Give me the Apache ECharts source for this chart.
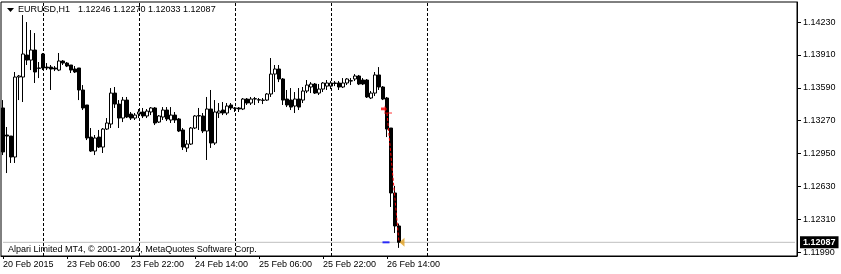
<!DOCTYPE html>
<html>
<head>
<meta charset="utf-8">
<script src="https://cdn.jsdelivr.net/npm/echarts@6/dist/echarts.min.js"></script>
<style>
html,body{margin:0;padding:0;background:#fff;}
#chart{width:841px;height:274px;}
</style>
</head>
<body>
<div id="chart"></div>
<script>
// ---- data (EURUSD H1) ----
const OPEN = [1.13394,1.13131,1.13121,1.12917,1.13695,1.13695,1.13909,1.13860,1.13958,1.13783,
1.13919,1.13792,1.13792,1.13783,1.13763,1.13851,1.13831,1.13812,1.13773,1.13783,
1.13569,1.13423,1.13111,1.12975,1.13111,1.13014,1.13189,1.13238,1.13539,1.13432,
1.13296,1.13471,1.13335,1.13296,1.13335,1.13355,1.13316,1.13355,1.13394,1.13257,
1.13306,1.13374,1.13277,1.13325,1.13287,1.13180,1.13005,1.13043,1.13199,1.13316,
1.13316,1.13170,1.13384,1.13053,1.13345,1.13374,1.13345,1.13423,1.13394,1.13394,
1.13384,1.13481,1.13442,1.13481,1.13471,1.13471,1.13471,1.13530,1.13724,1.13773,
1.13676,1.13481,1.13471,1.13413,1.13481,1.13471,1.13559,1.13598,1.13627,1.13539,
1.13578,1.13607,1.13607,1.13637,1.13637,1.13598,1.13637,1.13656,1.13676,1.13705,
1.13666,1.13666,1.13491,1.13539,1.13715,1.13598,1.13491,1.13199,1.12567,1.12246];
const CLOSE = [1.12966,1.13121,1.12917,1.13695,1.13705,1.13919,1.13860,1.13958,1.13744,1.13780,
1.13783,1.13783,1.13773,1.13773,1.13851,1.13831,1.13802,1.13763,1.13744,1.13569,
1.13394,1.13102,1.12975,1.13102,1.13014,1.13189,1.13248,1.13539,1.13432,1.13296,
1.13471,1.13306,1.13296,1.13325,1.13355,1.13316,1.13364,1.13394,1.13248,1.13316,
1.13374,1.13287,1.13325,1.13277,1.13170,1.13014,1.13043,1.13199,1.13316,1.13320,
1.13170,1.13384,1.13053,1.13355,1.13364,1.13345,1.13413,1.13394,1.13390,1.13384,
1.13481,1.13442,1.13481,1.13485,1.13475,1.13468,1.13530,1.13724,1.13773,1.13676,
1.13471,1.13423,1.13403,1.13481,1.13403,1.13559,1.13617,1.13627,1.13539,1.13578,
1.13637,1.13637,1.13637,1.13633,1.13598,1.13637,1.13676,1.13660,1.13705,1.13627,
1.13627,1.13501,1.13539,1.13715,1.13598,1.13481,1.13189,1.12567,1.12246,1.12087];
const LOW = [1.12936,1.12761,1.12859,1.12859,1.13471,1.13452,1.13812,1.13763,1.13637,1.13685,
1.13763,1.13763,1.13569,1.13753,1.13753,1.13812,1.13792,1.13734,1.13734,1.13471,
1.13374,1.13082,1.12966,1.12936,1.13005,1.12956,1.13180,1.13199,1.13394,1.13199,
1.13257,1.13296,1.13277,1.13277,1.13296,1.13296,1.13296,1.13325,1.13228,1.13248,
1.13277,1.13267,1.13248,1.13248,1.13160,1.12985,1.12966,1.13034,1.13189,1.13180,
1.13150,1.12888,1.13005,1.13034,1.13296,1.13325,1.13325,1.13374,1.13355,1.13355,
1.13374,1.13423,1.13423,1.13423,1.13442,1.13432,1.13462,1.13501,1.13549,1.13646,
1.13423,1.13403,1.13374,1.13345,1.13374,1.13442,1.13539,1.13539,1.13530,1.13520,
1.13549,1.13569,1.13578,1.13607,1.13569,1.13588,1.13617,1.13617,1.13656,1.13617,
1.13617,1.13491,1.13481,1.13510,1.13569,1.13471,1.13111,1.12431,1.12178,1.12033];
const HIGH = [1.13471,1.13209,1.13121,1.13744,1.13715,1.14298,1.14230,1.14152,1.14123,1.13841,
1.13929,1.13831,1.13812,1.13802,1.13929,1.13860,1.13841,1.13812,1.13802,1.13783,
1.13617,1.13423,1.13199,1.13131,1.13180,1.13199,1.13296,1.13588,1.13598,1.13471,
1.13501,1.13501,1.13355,1.13345,1.13384,1.13394,1.13384,1.13403,1.13403,1.13325,
1.13403,1.13403,1.13403,1.13355,1.13296,1.13199,1.13082,1.13209,1.13325,1.13394,
1.13345,1.13501,1.13569,1.13471,1.13442,1.13452,1.13442,1.13442,1.13403,1.13403,
1.13491,1.13491,1.13501,1.13501,1.13491,1.13491,1.13539,1.13880,1.13812,1.13812,
1.13685,1.13569,1.13588,1.13549,1.13588,1.13598,1.13666,1.13646,1.13637,1.13627,
1.13646,1.13666,1.13656,1.13656,1.13656,1.13685,1.13685,1.13685,1.13724,1.13715,
1.13685,1.13676,1.13559,1.13744,1.13792,1.13607,1.13501,1.13199,1.12635,1.12270];

const Y_TICKS = [1.11990,1.12310,1.12630,1.12950,1.13270,1.13590,1.13910,1.14230];
const TICK_CATS = ['20 Feb 14:00','23 Feb 06:00','23 Feb 22:00','24 Feb 14:00','25 Feb 06:00','25 Feb 22:00','26 Feb 14:00'];
const TICK_TEXT = ['20 Feb 2015','23 Feb 06:00','23 Feb 22:00','24 Feb 14:00','25 Feb 06:00','25 Feb 22:00','26 Feb 14:00'];
const SEPARATORS = ['23 Feb 00:00','24 Feb 00:00','25 Feb 00:00','26 Feb 00:00','27 Feb 00:00'];
const BID = 1.12087;
const TRADE_OPEN = {cat: 96, price: 1.13345};
const TRADE_CLOSE = {cat: 99, price: 1.12087};
const SYMBOL = 'EURUSD,H1';
const OHLC_TEXT = '1.12246 1.12270 1.12033 1.12087';
const COPYRIGHT = 'Alpari Limited MT4, \u00a9 2001-2014, MetaQuotes Software Corp.';

// hourly category slots (trading hours, weekends skipped), incl. empty future slots
const MONTHS = ['Jan','Feb','Mar','Apr','May','Jun','Jul','Aug','Sep','Oct','Nov','Dec'];
function buildCategories(n){
  const out = [];
  let t = Date.UTC(2015,1,20,14);
  while(out.length < n){
    const d = new Date(t);
    const wd = d.getUTCDay();
    if(wd !== 0 && wd !== 6){
      const hh = String(d.getUTCHours()).padStart(2,'0');
      out.push(d.getUTCDate() + ' ' + MONTHS[d.getUTCMonth()] + ' ' + hh + ':00');
    }
    t += 3600000;
  }
  return out;
}
const CATEGORIES = buildCategories(199);
const LAST_SLOT = CATEGORIES.length - 1;

const candles = OPEN.map((o,i)=>[o, CLOSE[i], LOW[i], HIGH[i]]);

const FONT = 'Liberation Sans, Arial, sans-serif';
const chart = echarts.init(document.getElementById('chart'), null, {renderer:'canvas'});
const isTick = (idx, val) => TICK_CATS.indexOf(val) >= 0;

chart.setOption({
  animation:false,
  backgroundColor:'#fff',
  grid:{left:1, right:44, top:2, bottom:18, show:true, borderColor:'#000', borderWidth:1, containLabel:false},
  xAxis:{
    type:'category', data:CATEGORIES, boundaryGap:true,
    axisLine:{show:true, lineStyle:{color:'#000', width:1}},
    axisTick:{show:true, interval:isTick, alignWithLabel:true, length:3, lineStyle:{color:'#000'}},
    axisLabel:{show:true, interval:isTick, align:'left', margin:4, color:'#000', fontSize:9, fontFamily:FONT,
      formatter:(v)=>TICK_TEXT[TICK_CATS.indexOf(v)]},
    splitLine:{show:false}
  },
  yAxis:{
    type:'value', position:'right', min:1.11954, max:1.14425, scale:true,
    axisLine:{show:true, lineStyle:{color:'#000', width:1}},
    axisTick:{show:true, length:4, inside:false, customValues:Y_TICKS, lineStyle:{color:'#000'}},
    axisLabel:{show:true, customValues:Y_TICKS, margin:6, color:'#000', fontSize:9, fontFamily:FONT,
      hideOverlap:false, formatter:(v)=>v.toFixed(5)},
    splitLine:{show:false}
  },
  graphic:[
    {type:'polygon', left:7, top:8, shape:{points:[[0,0],[7,0],[3.5,4]]}, style:{fill:'#000'}},
    {type:'text', left:18, top:5, style:{text:SYMBOL, fill:'#000', font:'9px '+FONT}},
    {type:'text', left:78, top:5, style:{text:OHLC_TEXT, fill:'#000', font:'9px '+FONT}},
    {type:'text', left:8, top:245, style:{text:COPYRIGHT, fill:'#000', font:'9px '+FONT}}
  ],
  series:[
    {
      type:'line', data:[], z:1, silent:true,
      markLine:{silent:true, symbol:['none','none'], animation:false,
        lineStyle:{color:'#000', type:[3,2], width:1},
        label:{show:false},
        data:SEPARATORS.map(c=>({xAxis:c}))}
    },
    {
      type:'line', z:2, silent:true, symbol:'none',
      data:[[0, BID],[LAST_SLOT, BID]],
      lineStyle:{color:'#c0c0c0', type:'solid', width:1},
      endLabel:{show:true, distance:5, formatter:()=>BID.toFixed(5), color:'#fff',
        backgroundColor:'#000', padding:[2,3,1,3], fontSize:9, fontFamily:FONT, fontWeight:'bold'}
    },
    {
      type:'candlestick', data:candles, z:3, barWidth:3,
      itemStyle:{color:'#fff', color0:'#000', borderColor:'#000', borderColor0:'#000', borderWidth:1}
    },
    {
      type:'line', z:4, silent:true, symbol:'none',
      data:[[TRADE_OPEN.cat, TRADE_OPEN.price],[TRADE_CLOSE.cat, TRADE_CLOSE.price]],
      lineStyle:{color:'#ff0000', type:[3,2], width:1}
    },
    {
      type:'scatter', z:5, silent:true,
      data:[[TRADE_OPEN.cat, TRADE_OPEN.price]],
      symbol:'rect', symbolSize:[8,1], symbolOffset:[1,0], itemStyle:{color:'#ff0000'}
    },
    {
      type:'scatter', z:5, silent:true,
      data:[[TRADE_OPEN.cat, TRADE_OPEN.price + 0.0004]],
      symbol:'path://M0,3 L6,3 L6,0 L10,5 L6,10 L6,7 L0,7 Z', symbolSize:[6,7], symbolOffset:[-3,0],
      itemStyle:{color:'#ff0000'}
    },
    {
      type:'scatter', z:5, silent:true,
      data:[[TRADE_OPEN.cat, TRADE_CLOSE.price]],
      symbol:'rect', symbolSize:[7,2], symbolOffset:[-1,0], itemStyle:{color:'#0000ff'}
    },
    {
      type:'scatter', z:6, silent:true,
      data:[[TRADE_CLOSE.cat, TRADE_CLOSE.price]],
      symbol:'path://M0,5 L8,0 L8,10 Z', symbolSize:[5,9], symbolOffset:[3,0],
      itemStyle:{color:'#e0a020'}
    }
  ]
});
</script>
</body>
</html>
